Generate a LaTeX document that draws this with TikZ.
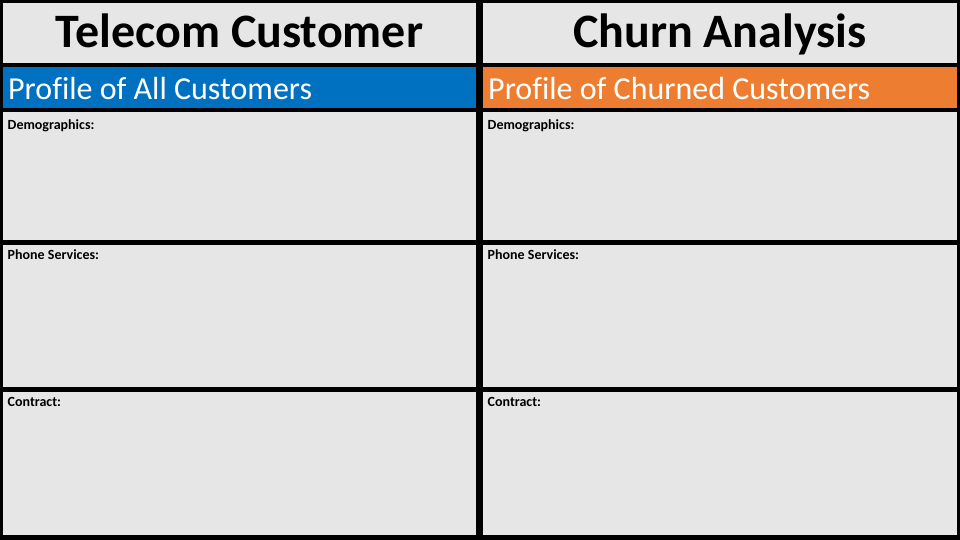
\documentclass[tikz,border=0pt]{standalone}
\usepackage{fontspec}
\setmainfont[Ligatures=NoCommon]{Carlito}
\definecolor{panelgray}{HTML}{E6E6E6}
\definecolor{barblue}{HTML}{0070C0}
\definecolor{barorange}{HTML}{ED7D31}
\tikzset{
  panel/.style={fill=panelgray, draw=none, inner sep=0pt, anchor=north west},
  bar/.style={draw=none, inner sep=0pt, anchor=north west},
  titletext/.style={inner sep=0pt, anchor=base, font=\fontsize{48}{52}\selectfont\bfseries, text=black},
  bartext/.style={inner sep=0pt, anchor=base west, font=\fontsize{32}{36}\selectfont, text=white},
  labeltext/.style={inner sep=0pt, anchor=base west, font=\fontsize{14}{16}\selectfont\bfseries, text=black}
}
\begin{document}
\begin{tikzpicture}[x=1pt,y=-1pt]
\useasboundingbox[fill=black] (0,0) rectangle (960,540);
% left column
\node[panel, minimum width=473pt, minimum height=60pt] (tl) at (3,3) {};
\node[bar, fill=barblue, minimum width=473pt, minimum height=41pt] (bl) at (3,67) {};
\node[panel, minimum width=473pt, minimum height=128pt] (d1) at (3,112) {};
\node[panel, minimum width=473pt, minimum height=142pt] (p1) at (3,245) {};
\node[panel, minimum width=473pt, minimum height=143pt] (c1) at (3,392) {};
% right column
\node[panel, minimum width=474pt, minimum height=60pt] (tr) at (483,3) {};
\node[bar, fill=barorange, minimum width=474pt, minimum height=41pt] (br) at (483,67) {};
\node[panel, minimum width=474pt, minimum height=128pt] (d2) at (483,112) {};
\node[panel, minimum width=474pt, minimum height=142pt] (p2) at (483,245) {};
\node[panel, minimum width=474pt, minimum height=143pt] (c2) at (483,392) {};
% texts
\node[titletext] (tlt) at (239.5,48) {Telecom Customer};
\node[titletext] (trt) at (720,48) {Churn Analysis};
\node[bartext] (blt) at (8,99.5) {Profile of All Customers};
\node[bartext] (brt) at (488,99.5) {Profile of Churned Customers};
\node[labeltext] (d1t) at (7.5,129.5) {Demographics:};
\node[labeltext] (p1t) at (7.5,259) {Phone Services:};
\node[labeltext] (c1t) at (7.5,406) {Contract:};
\node[labeltext] (d2t) at (487.5,129.5) {Demographics:};
\node[labeltext] (p2t) at (487.5,259) {Phone Services:};
\node[labeltext] (c2t) at (487.5,406) {Contract:};
\end{tikzpicture}
\end{document}
